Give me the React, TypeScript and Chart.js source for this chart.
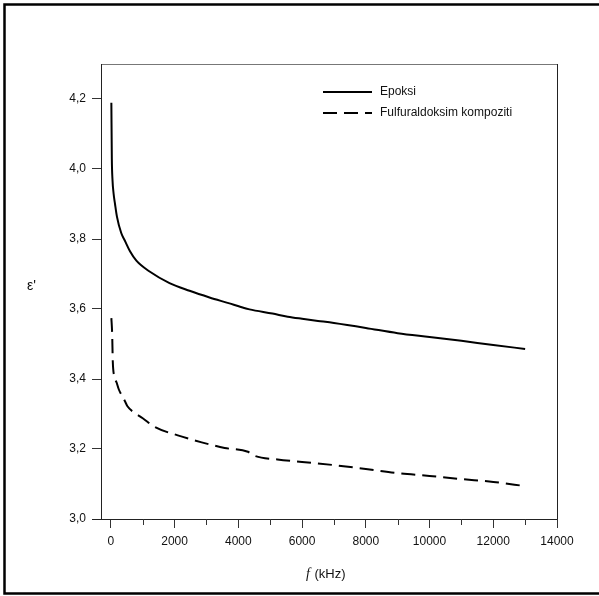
import React, { useEffect, useRef } from "react";
import { Chart, registerables } from "chart.js";

Chart.register(...registerables);

const epoksiF = [15, 30, 50, 85, 130, 190, 325, 440, 600, 800, 1215, 1840, 2470, 3095, 3720, 4035, 4350, 5070, 5550, 6000, 6500, 7000, 8000, 9000, 10000, 11000, 12000, 13000];
const epoksiE = [4.189, 4.03, 3.97, 3.93, 3.90, 3.864, 3.817, 3.795, 3.765, 3.738, 3.707, 3.674, 3.652, 3.633, 3.616, 3.607, 3.599, 3.587, 3.578, 3.572, 3.566, 3.56, 3.546, 3.531, 3.52, 3.509, 3.497, 3.486];

const kompF = [15, 40, 60, 100, 180, 250, 370, 450, 520, 750, 1000, 1375, 2100, 2850, 3570, 4300, 4500, 5230, 6000, 7000, 8000, 9000, 10000, 11000, 12000, 13000];
const kompE = [3.574, 3.53, 3.45, 3.41, 3.39, 3.37, 3.349, 3.335, 3.322, 3.303, 3.288, 3.263, 3.239, 3.219, 3.203, 3.192, 3.181, 3.17, 3.163, 3.154, 3.143, 3.131, 3.123, 3.114, 3.106, 3.094];

const seriesLabels = ["Epoksi", "Fulfuraldoksim kompoziti"];
const xMajorTicks = [0, 2000, 4000, 6000, 8000, 10000, 12000, 14000];
const xMinorTicks = [1000, 3000, 5000, 7000, 9000, 11000, 13000];
const yTicks = [3.0, 3.2, 3.4, 3.6, 3.8, 4.0, 4.2];

const FONT = '"Liberation Sans", Arial, sans-serif';

const decorPlugin = {
  id: "decor",
  afterDraw(chart: any) {
    const ctx = chart.ctx;
    const a = chart.chartArea;
    const xs = chart.scales.x;
    ctx.save();
    // outer frame
    ctx.strokeStyle = "#000";
    ctx.lineWidth = 2.5;
    ctx.beginPath();
    ctx.moveTo(620, 4.5);
    ctx.lineTo(4.5, 4.5);
    ctx.lineTo(4.5, 593.5);
    ctx.lineTo(620, 593.5);
    ctx.stroke();
    // plot box
    ctx.lineWidth = 1;
    ctx.strokeStyle = "#777";
    ctx.beginPath();
    ctx.moveTo(a.left, a.top + 0.5);
    ctx.lineTo(a.right, a.top + 0.5);
    ctx.stroke();
    ctx.strokeStyle = "#222";
    ctx.beginPath();
    ctx.moveTo(a.left + 0.5, a.top);
    ctx.lineTo(a.left + 0.5, a.bottom);
    ctx.moveTo(a.right + 0.5, a.top);
    ctx.lineTo(a.right + 0.5, a.bottom);
    ctx.moveTo(a.left - 9, a.bottom + 0.5);
    ctx.lineTo(a.right, a.bottom + 0.5);
    ctx.stroke();
    // minor x ticks
    ctx.strokeStyle = "#333";
    ctx.beginPath();
    for (const v of xMinorTicks) {
      const px = Math.round(xs.getPixelForValue(v)) + 0.5;
      ctx.moveTo(px, a.bottom);
      ctx.lineTo(px, a.bottom + 6);
    }
    ctx.stroke();
    // legend
    const ds = chart.data.datasets;
    const ly = [92, 113];
    ds.forEach((d: any, i: number) => {
      ctx.strokeStyle = d.borderColor;
      ctx.lineWidth = d.borderWidth;
      ctx.setLineDash(d.borderDash || []);
      ctx.beginPath();
      ctx.moveTo(323, ly[i]);
      ctx.lineTo(372, ly[i]);
      ctx.stroke();
      ctx.setLineDash([]);
      ctx.fillStyle = "#111";
      ctx.font = "12px " + FONT;
      ctx.textBaseline = "middle";
      ctx.textAlign = "left";
      ctx.fillText(d.label, 380, ly[i]);
    });
    // axis titles
    ctx.fillStyle = "#111";
    ctx.textBaseline = "middle";
    ctx.textAlign = "left";
    ctx.font = "14px " + FONT;
    ctx.fillText("ε'", 27, 286);
    ctx.font = 'italic 14px "Liberation Serif", serif';
    ctx.fillText("f", 306, 574);
    const fw = ctx.measureText("f").width;
    ctx.font = "13px " + FONT;
    ctx.fillText(" (kHz)", 306 + fw + 1, 574);
    ctx.restore();
  },
};

export default function App() {
  const ref = useRef<HTMLCanvasElement | null>(null);
  useEffect(() => {
    if (!ref.current) return;
    const chart = new Chart(ref.current, {
      type: "line",
      data: {
        datasets: [
          {
            label: seriesLabels[0],
            data: epoksiF.map((f, i) => ({ x: f, y: epoksiE[i] })),
            borderColor: "#000",
            borderWidth: 2,
            pointRadius: 0,
            cubicInterpolationMode: "monotone",
            fill: false,
          },
          {
            label: seriesLabels[1],
            data: kompF.map((f, i) => ({ x: f, y: kompE[i] })),
            borderColor: "#000",
            borderWidth: 2,
            borderDash: [14, 7],
            pointRadius: 0,
            cubicInterpolationMode: "monotone",
            fill: false,
          },
        ],
      },
      options: {
        animation: false,
        responsive: false,
        layout: { padding: { top: 64, right: 42, left: 0, bottom: 0 } },
        plugins: { legend: { display: false }, tooltip: { enabled: false } },
        scales: {
          x: {
            type: "linear",
            min: -310,
            max: 14000,
            border: { display: false },
            grid: { drawOnChartArea: false, drawTicks: true, tickLength: 9, color: "#333" },
            ticks: {
              stepSize: 2000,
              padding: 6,
              color: "#111",
              font: { family: FONT, size: 12 },
              maxRotation: 0,
              callback: (v: any) => String(v),
            },
            afterBuildTicks: (s: any) => {
              s.ticks = xMajorTicks.map((v) => ({ value: v }));
            },
            afterFit: (s: any) => {
              s.height = 77;
            },
          },
          y: {
            type: "linear",
            min: 3.0,
            max: 4.3,
            border: { display: false },
            grid: { drawOnChartArea: false, drawTicks: true, tickLength: 9, color: "#333" },
            ticks: {
              stepSize: 0.2,
              padding: 6,
              color: "#111",
              font: { family: FONT, size: 12 },
              callback: (v: any) => Number(v).toFixed(1).replace(".", ","),
            },
            afterBuildTicks: (s: any) => {
              s.ticks = yTicks.map((v) => ({ value: v }));
            },
            afterFit: (s: any) => {
              s.width = 101;
            },
          },
        },
      } as any,
      plugins: [decorPlugin],
    });
    return () => chart.destroy();
  }, []);
  return (
    <div style={{ position: "absolute", left: 0, top: 0, width: 599, height: 596, background: "#fff" }}>
      <canvas ref={ref} width={599} height={596} style={{ width: 599, height: 596, display: "block" }} />
    </div>
  );
}
